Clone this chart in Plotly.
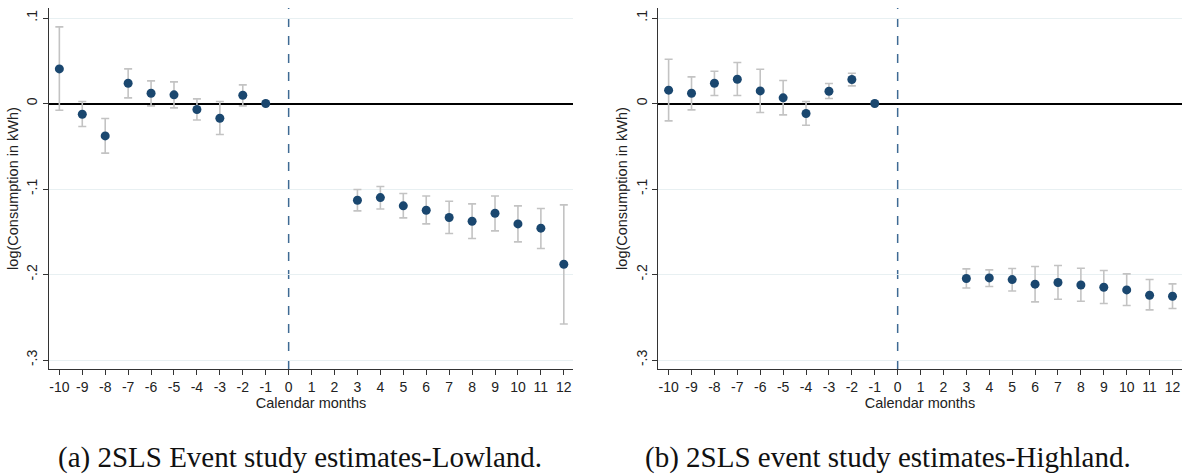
import plotly.graph_objects as go

months = [-10, -9, -8, -7, -6, -5, -4, -3, -2, -1, 3, 4, 5, 6, 7, 8, 9, 10, 11, 12]

low_est = [0.0405, -0.0125, -0.0379, 0.0237, 0.0120, 0.0101, -0.0070, -0.0172, 0.0097, 0.0,
           -0.1131, -0.1100, -0.1197, -0.1248, -0.1333, -0.1377, -0.1283, -0.1408, -0.1458, -0.1880]
low_hi = [0.0896, 0.0023, -0.0175, 0.0405, 0.0265, 0.0253, 0.0054, 0.0023, 0.0218, 0.0,
          -0.1006, -0.0971, -0.1053, -0.1081, -0.1143, -0.1174, -0.1081, -0.1197, -0.1228, -0.1186]
low_lo = [-0.0078, -0.0269, -0.0580, 0.0066, -0.0028, -0.0051, -0.0192, -0.0363, -0.0028, 0.0,
          -0.1256, -0.1233, -0.1338, -0.1408, -0.1520, -0.1579, -0.1490, -0.1618, -0.1696, -0.2578]

high_est = [0.0156, 0.0120, 0.0237, 0.0284, 0.0147, 0.0066, -0.0117, 0.0144, 0.0281, 0.0,
            -0.2047, -0.2040, -0.2059, -0.2113, -0.2094, -0.2122, -0.2149, -0.2180, -0.2242, -0.2254]
high_hi = [0.0518, 0.0311, 0.0378, 0.0480, 0.0401, 0.0269, 0.0023, 0.0234, 0.0354, 0.0,
           -0.1934, -0.1946, -0.1930, -0.1906, -0.1895, -0.1926, -0.1953, -0.1993, -0.2059, -0.2110]
high_lo = [-0.0203, -0.0075, 0.0094, 0.0094, -0.0105, -0.0133, -0.0254, 0.0058, 0.0206, 0.0,
           -0.2157, -0.2140, -0.2192, -0.2320, -0.2289, -0.2312, -0.2339, -0.2363, -0.2414, -0.2398]

x_ticks = list(range(-10, 13))
y_tickvals = [-0.3, -0.2, -0.1, 0.0, 0.1]
y_ticktext = ["-.3", "-.2", "-.1", "0", ".1"]

captions = ["(a) 2SLS Event study estimates-Lowland.", "(b) 2SLS event study estimates-Highland."]

NAVY = "#1a476f"
GRAY = "#c3c3c3"
SANS = "Liberation Sans, Arial"

fig = go.Figure()

panels = [(low_est, low_hi, low_lo, "x", "y"), (high_est, high_hi, high_lo, "x2", "y2")]
for est, hi, lo, xa, ya in panels:
    plus = [h - e for h, e in zip(hi, est)]
    minus = [e - l for e, l in zip(est, lo)]
    fig.add_trace(go.Scatter(
        x=months, y=est, mode="markers", xaxis=xa, yaxis=ya,
        marker=dict(color=NAVY, size=9, line=dict(width=0)),
        error_y=dict(type="data", array=plus, arrayminus=minus, color=GRAY, thickness=1.6, width=4),
        showlegend=False, hoverinfo="skip"))

xdom = [[0.0412, 0.4815], [0.5532, 0.993]]
ydom = [1 - 369 / 475, 1 - 8 / 475]

common_x = dict(range=[-10.45, 12.4], tickmode="array", tickvals=x_ticks,
                ticktext=[str(v) for v in x_ticks], showgrid=False, zeroline=False,
                showline=True, linecolor="#333333", linewidth=1.2, ticks="outside",
                ticklen=5, tickcolor="#333333", tickwidth=1.2,
                tickfont=dict(family=SANS, size=14, color="#222222"),
                title=dict(text="Calendar months", standoff=1,
                           font=dict(family=SANS, size=14.5, color="#222222")))
common_y = dict(range=[-0.3105, 0.1117], tickmode="array", tickvals=y_tickvals,
                ticktext=y_ticktext, tickangle=-90, showgrid=True, gridcolor="#e8f0f2",
                gridwidth=1, zeroline=True, zerolinecolor="#000000", zerolinewidth=1.6,
                showline=True, linecolor="#333333", linewidth=1.2, ticks="outside",
                ticklen=5, tickcolor="#333333", tickwidth=1.2,
                tickfont=dict(family=SANS, size=14, color="#222222"),
                title=dict(text="log(Consumption in kWh)", standoff=2,
                           font=dict(family=SANS, size=14.5, color="#222222")))

fig.update_layout(
    xaxis=dict(domain=xdom[0], anchor="y", **common_x),
    yaxis=dict(domain=ydom, anchor="x", **common_y),
    xaxis2=dict(domain=xdom[1], anchor="y2", **common_x),
    yaxis2=dict(domain=ydom, anchor="x2", **common_y),
    width=1190, height=475,
    margin=dict(l=0, r=0, t=0, b=0),
    paper_bgcolor="white", plot_bgcolor="white",
)

for xa, ya in [("x", "y"), ("x2", "y2")]:
    fig.add_shape(type="line", xref=xa, yref=ya + " domain", x0=0, x1=0, y0=0, y1=1,
                  line=dict(color="#3e6a94", width=1.5, dash="dash"), layer="below")

cap_x = [300 / 1190, 888 / 1190]
for cx, txt in zip(cap_x, captions):
    fig.add_annotation(text=txt, x=cx, y=1 - 457 / 475, xref="paper", yref="paper",
                       showarrow=False, xanchor="center", yanchor="middle",
                       font=dict(family="Liberation Serif", size=29, color="#111111"))

fig.write_html("out.html")
